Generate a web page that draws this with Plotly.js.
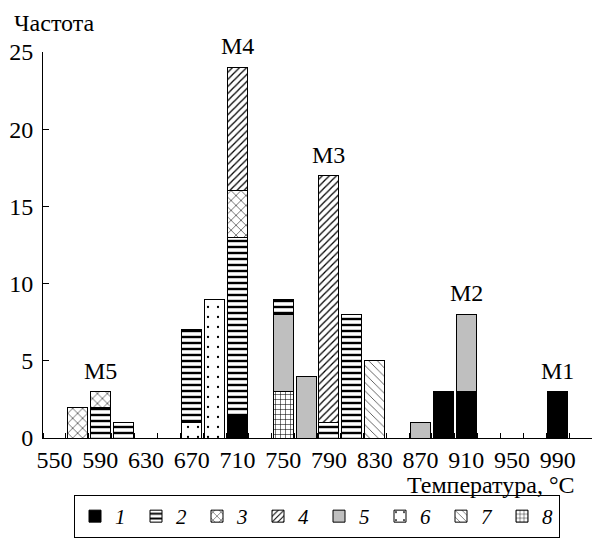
<!DOCTYPE html>
<html>
<head>
<meta charset="utf-8">
<script src="https://cdn.plot.ly/plotly-3.0.1.min.js"></script>
<style>html,body{margin:0;padding:0;background:#fff;}#chart{width:592px;height:539px;}</style>
</head>
<body>
<div id="chart"></div>
<script>
// Bin centres (°C)
const bins = [570,590,610,630,650,670,690,710,730,750,770,790,810,830,850,870,890,910,930,950,970,990];
// Frequencies by class (1..8), per bin
const s1 = [0,0,0,0,0,0,0,1.5,0,0,0,0,0,0,0,0,3,3,0,0,0,3];
const s2 = [0,2,1,0,0,6,0,11.5,0,1,0,1,8,0,0,0,0,0,0,0,0,0];
const s3 = [2,1,0,0,0,0,0,3,0,0,0,0,0,0,0,0,0,0,0,0,0,0];
const s4 = [0,0,0,0,0,0,0,8,0,0,0,16,0,0,0,0,0,0,0,0,0,0];
const s5 = [0,0,0,0,0,0,0,0,0,5,4,0,0,0,0,1,0,5,0,0,0,0];
const s6 = [0,0,0,0,0,1,9,0,0,0,0,0,0,0,0,0,0,0,0,0,0,0];
const s7 = [0,0,0,0,0,0,0,0,0,0,0,0,0,5,0,0,0,0,0,0,0,0];
const s8 = [0,0,0,0,0,0,0,0,0,3,0,0,0,0,0,0,0,0,0,0,0,0];
const tickLabels = [550,590,630,670,710,750,790,830,870,910,950,990];
const peaks = [{t:'M5',x:590,y:3},{t:'M4',x:710,y:24},{t:'M3',x:790,y:17},{t:'M2',x:910,y:8},{t:'M1',x:990,y:3}];

const F1 = 'Times New Roman';
const F2 = 'serif';
const F3 = 'Liberation Serif';
const styles = {
  '1': {color:'#000000', pattern:{shape:''}},
  '2': {color:'#ffffff', pattern:{shape:'-', fgcolor:'#000', bgcolor:'#fff', size:6, solidity:0.4}},
  '3': {color:'#ffffff', pattern:{shape:'x', fgcolor:'#000', bgcolor:'#fff', size:7, solidity:0.15}},
  '4': {color:'#ffffff', pattern:{shape:'/', fgcolor:'#000', bgcolor:'#fff', size:5, solidity:0.25}},
  '5': {color:'#bfbfbf', pattern:{shape:''}},
  '6': {color:'#ffffff', pattern:{shape:'.', fgcolor:'#000', bgcolor:'#fff', size:10, solidity:0.04}},
  '7': {color:'#ffffff', pattern:{shape:'\\', fgcolor:'#555', bgcolor:'#fff', size:6, solidity:0.15}},
  '8': {color:'#ffffff', pattern:{shape:'+', fgcolor:'#000', bgcolor:'#fff', size:5, solidity:0.2}}
};
const series = {'1':s1,'2':s2,'3':s3,'4':s4,'5':s5,'6':s6,'7':s7,'8':s8};
// stacking order (bottom to top)
const order = ['1','8','6','5','2','3','4','7'];

const traces = order.map(k => ({
  type:'bar', name:k, x:bins, y:series[k].map(v => v === 0 ? null : v),
  width:17.5, legendrank:Number(k), legendwidth:(k === '8' ? 12 : 16),
  marker:{color:styles[k].color, pattern:styles[k].pattern, line:{color:'#000', width:1}}
}));

const annotations = peaks.map(p => ({
  x:p.x, y:p.y, xref:'x', yref:'y', text:p.t, showarrow:false,
  yanchor:'bottom', yshift:6, font:{family:F2, size:24}
}));
annotations.push({xref:'paper', yref:'paper', x:-0.057, y:1.036, xanchor:'left', yanchor:'bottom',
  text:'Частота', showarrow:false, font:{family:F1, size:24}});
annotations.push({xref:'paper', yref:'paper', x:0.973, y:-0.122, xanchor:'right', yanchor:'middle',
  text:'Температура, °C', showarrow:false, font:{family:F3, size:24}});

const layout = {
  width:592, height:539,
  margin:{l:43, r:0, t:52, b:101},
  paper_bgcolor:'#fff', plot_bgcolor:'#fff',
  barmode:'stack', showlegend:true,
  font:{color:'#000'},
  xaxis:{range:[540,1020], tickmode:'array', tickvals:tickLabels, ticktext:tickLabels.map(String),
    ticks:'', showline:true, linecolor:'#000', linewidth:1, showgrid:false, zeroline:false,
    tickfont:{family:F3, size:24},
    minor:{tick0:560, dtick:20, ticks:'inside', ticklen:5, tickcolor:'#000', tickwidth:1, showgrid:false}},
  yaxis:{range:[0,25], tickmode:'array', tickvals:[0,5,10,15,20,25], ticks:'inside', ticklen:6,
    tickcolor:'#000', showline:true, linecolor:'#000', linewidth:1, showgrid:false, zeroline:false,
    tickfont:{family:F1, size:24}, ticklabelstandoff:4},
  legend:{orientation:'h', x:74/592, xref:'container', y:1/539, yref:'container', xanchor:'left', yanchor:'bottom',
    bordercolor:'#000', borderwidth:1, entrywidth:16, traceorder:'normal',
    font:{family:F2, size:21, style:'italic'}},
  annotations:annotations
};

Plotly.newPlot('chart', traces, layout, {displayModeBar:false});
</script>
</body>
</html>
